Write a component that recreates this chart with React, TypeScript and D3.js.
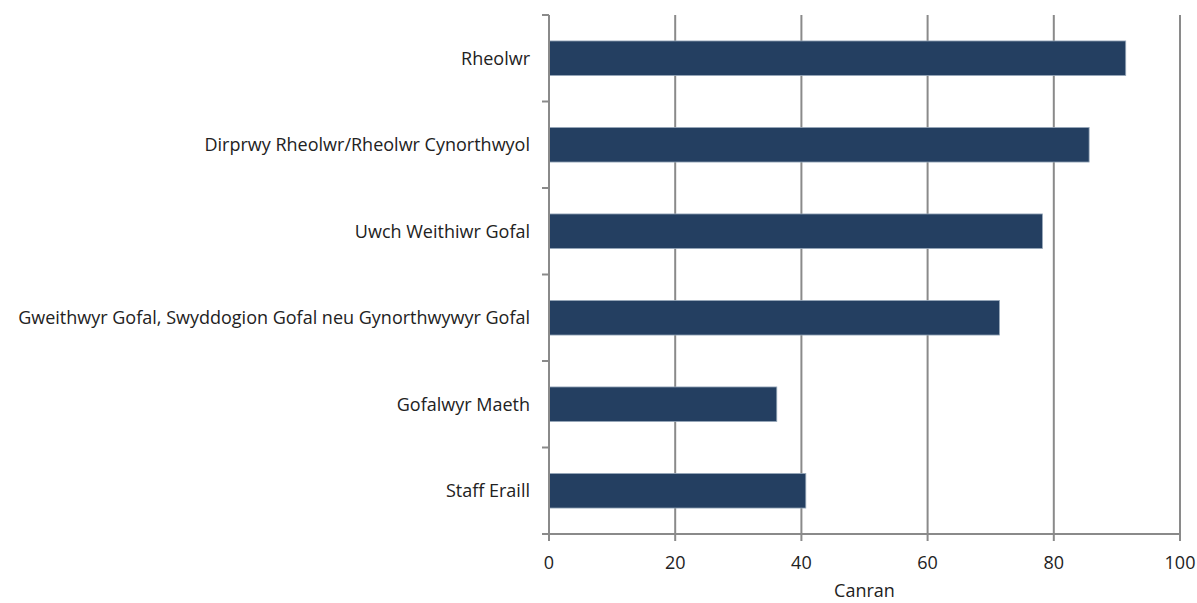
import { useEffect, useRef } from 'react'
import * as d3 from 'd3'

const categories = [
  'Rheolwr',
  'Dirprwy Rheolwr/Rheolwr Cynorthwyol',
  'Uwch Weithiwr Gofal',
  'Gweithwyr Gofal, Swyddogion Gofal neu Gynorthwywyr Gofal',
  'Gofalwyr Maeth',
  'Staff Eraill',
]
const values = [91.4, 85.6, 78.2, 71.4, 36.1, 40.7]
const xTicks = [0, 20, 40, 60, 80, 100]
const xLabel = 'Canran'

export default function App() {
  const svgRef = useRef<SVGSVGElement>(null)

  useEffect(() => {
    if (!svgRef.current) return
    const width = 1197
    const height = 603
    const margin = { top: 15, right: 17, bottom: 69, left: 549 }
    const innerW = width - margin.left - margin.right
    const innerH = height - margin.top - margin.bottom
    const font = '"Open Sans", "Noto Sans", sans-serif'
    const fs = 18

    const svg = d3.select(svgRef.current)
    svg.selectAll('*').remove()
    svg.attr('width', width).attr('height', height)

    const g = svg.append('g').attr('transform', `translate(${margin.left},${margin.top})`)

    const x = d3.scaleLinear().domain([0, 100]).range([0, innerW])
    const y = d3.scaleBand<string>().domain(categories).range([0, innerH]).paddingInner(0.6).paddingOuter(0.3)
    const yStep = y.step()
    const band0 = y.range()[0]

    // vertical gridlines
    g.selectAll('line.grid')
      .data(xTicks.filter((t) => t > 0))
      .join('line')
      .attr('x1', (d) => x(d)).attr('x2', (d) => x(d))
      .attr('y1', 0).attr('y2', innerH)
      .attr('stroke', '#8a8a8a')
      .attr('stroke-width', 2)

    // bars
    g.selectAll('rect.bar')
      .data(categories)
      .join('rect')
      .attr('x', 0)
      .attr('y', (d) => y(d) ?? 0)
      .attr('width', (_, i) => x(values[i]))
      .attr('height', y.bandwidth())
      .attr('fill', '#243f61')
      .attr('stroke', '#9aaabb')
      .attr('stroke-width', 0.8)

    // y axis line and ticks at category boundaries
    g.append('line')
      .attr('x1', 0).attr('x2', 0)
      .attr('y1', 0).attr('y2', innerH + 7)
      .attr('stroke', '#8a8a8a').attr('stroke-width', 2)
    g.selectAll('line.ytick')
      .data(d3.range(categories.length + 1))
      .join('line')
      .attr('x1', -7).attr('x2', 0)
      .attr('y1', (i) => band0 + i * yStep).attr('y2', (i) => band0 + i * yStep)
      .attr('stroke', '#8a8a8a').attr('stroke-width', 2)

    // x axis line and ticks
    g.append('line')
      .attr('x1', -7).attr('x2', innerW)
      .attr('y1', innerH).attr('y2', innerH)
      .attr('stroke', '#8a8a8a').attr('stroke-width', 2)
    g.selectAll('line.xtick')
      .data(xTicks)
      .join('line')
      .attr('x1', (d) => x(d)).attr('x2', (d) => x(d))
      .attr('y1', innerH).attr('y2', innerH + 7)
      .attr('stroke', '#8a8a8a').attr('stroke-width', 2)

    // x tick labels
    g.selectAll('text.xlab')
      .data(xTicks)
      .join('text')
      .attr('x', (d) => x(d))
      .attr('y', innerH + 35)
      .attr('text-anchor', 'middle')
      .attr('font-family', font)
      .attr('font-size', fs)
      .attr('fill', '#222')
      .text((d) => `${d}`)

    // category labels
    g.selectAll('text.ylab')
      .data(categories)
      .join('text')
      .attr('x', -19)
      .attr('y', (d) => (y(d) ?? 0) + y.bandwidth() / 2)
      .attr('dy', '0.35em')
      .attr('text-anchor', 'end')
      .attr('font-family', font)
      .attr('font-size', fs)
      .attr('fill', '#222')
      .text((d) => d)

    svg.append('text')
      .attr('x', margin.left + innerW / 2)
      .attr('y', 597)
      .attr('text-anchor', 'middle')
      .attr('font-family', font)
      .attr('font-size', fs)
      .attr('fill', '#222')
      .text(xLabel)
  }, [])

  return (
    <div style={{ position: 'absolute', left: 0, top: 0, background: '#fff' }}>
      <svg ref={svgRef} style={{ display: 'block' }} />
    </div>
  )
}
